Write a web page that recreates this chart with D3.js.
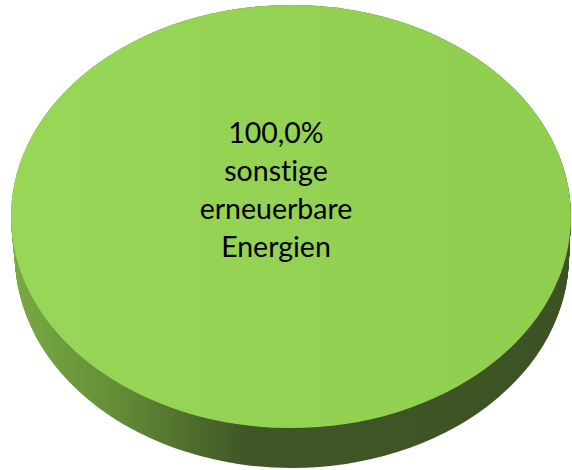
<!DOCTYPE html>
<html>
<head>
<meta charset="utf-8">
<script src="https://cdn.jsdelivr.net/npm/d3@7"></script>
<style>
  body { margin: 0; background: #fff; }
  svg { display: block; }
  .label { font-variant-ligatures: none; }
</style>
</head>
<body>
<div id="chart-area"></div>
<script>
// Data
let categories = ["sonstige erneuerbare Energien"];
let values = [100.0];
let labelLines = [["100,0%", "sonstige", "erneuerbare", "Energien"]];

let width = 572, height = 470;

let svg = d3.select("#chart-area").append("svg")
    .attr("width", width)
    .attr("height", height);

// pie geometry: top face ellipse and (slightly narrower) bottom ellipse
let topE = {cx: 291, cy: 216.5, rx: 280, ry: 211.5};
let botE = {cx: 292, cy: 256, rx: 277, ry: 212};

let defs = svg.append("defs");
let sideGrad = defs.append("linearGradient")
    .attr("id", "side-grad")
    .attr("gradientUnits", "userSpaceOnUse")
    .attr("x1", 10).attr("x2", 570).attr("y1", 0).attr("y2", 0);
sideGrad.append("stop").attr("offset", "0%").attr("stop-color", "#78ab44");
sideGrad.append("stop").attr("offset", "18%").attr("stop-color", "#668f38");
sideGrad.append("stop").attr("offset", "42%").attr("stop-color", "#3f5726");
sideGrad.append("stop").attr("offset", "100%").attr("stop-color", "#3c5224");

let topGrad = defs.append("linearGradient")
    .attr("id", "top-grad")
    .attr("x1", 0).attr("x2", 1).attr("y1", 0).attr("y2", 0);
topGrad.append("stop").attr("offset", "0%").attr("stop-color", "#97d657");
topGrad.append("stop").attr("offset", "100%").attr("stop-color", "#90ce4f");

let pie = d3.pie().sort(null).value(d => d);
let arcs = pie(values);

let arc = d3.arc().innerRadius(0).outerRadius(topE.rx);

// side wall: sweep of ellipses from bottom to top face
let steps = d3.range(0, 1.0001, 1 / 40);
let sideG = svg.append("g").attr("class", "side");
sideG.selectAll("ellipse")
    .data(steps)
    .enter()
    .append("ellipse")
    .attr("cx", t => d3.interpolateNumber(botE.cx, topE.cx)(t))
    .attr("cy", t => d3.interpolateNumber(botE.cy, topE.cy)(t))
    .attr("rx", t => d3.interpolateNumber(botE.rx, topE.rx)(t))
    .attr("ry", t => d3.interpolateNumber(botE.ry, topE.ry)(t))
    .attr("fill", "url(#side-grad)");

// top face
let topFace = svg.append("g")
    .attr("transform", `translate(${topE.cx},${topE.cy}) scale(1,${topE.ry / topE.rx})`);

topFace.selectAll(".slice")
    .data(arcs)
    .enter()
    .append("path")
    .attr("class", "slice")
    .attr("d", arc)
    .attr("fill", "url(#top-grad)");

// labels
let lineHeight = 38;
let label = svg.selectAll(".label")
    .data(arcs)
    .enter()
    .append("text")
    .attr("class", "label")
    .attr("x", 276)
    .attr("y", 143)
    .attr("text-anchor", "middle")
    .attr("font-family", "Lato, 'Open Sans', sans-serif")
    .attr("font-size", 28.5)
    .attr("fill", "#000");

label.selectAll("tspan")
    .data((d, i) => labelLines[i])
    .enter()
    .append("tspan")
    .attr("x", 276)
    .attr("dy", (d, i) => i === 0 ? 0 : lineHeight)
    .text(d => d);
</script>
</body>
</html>
